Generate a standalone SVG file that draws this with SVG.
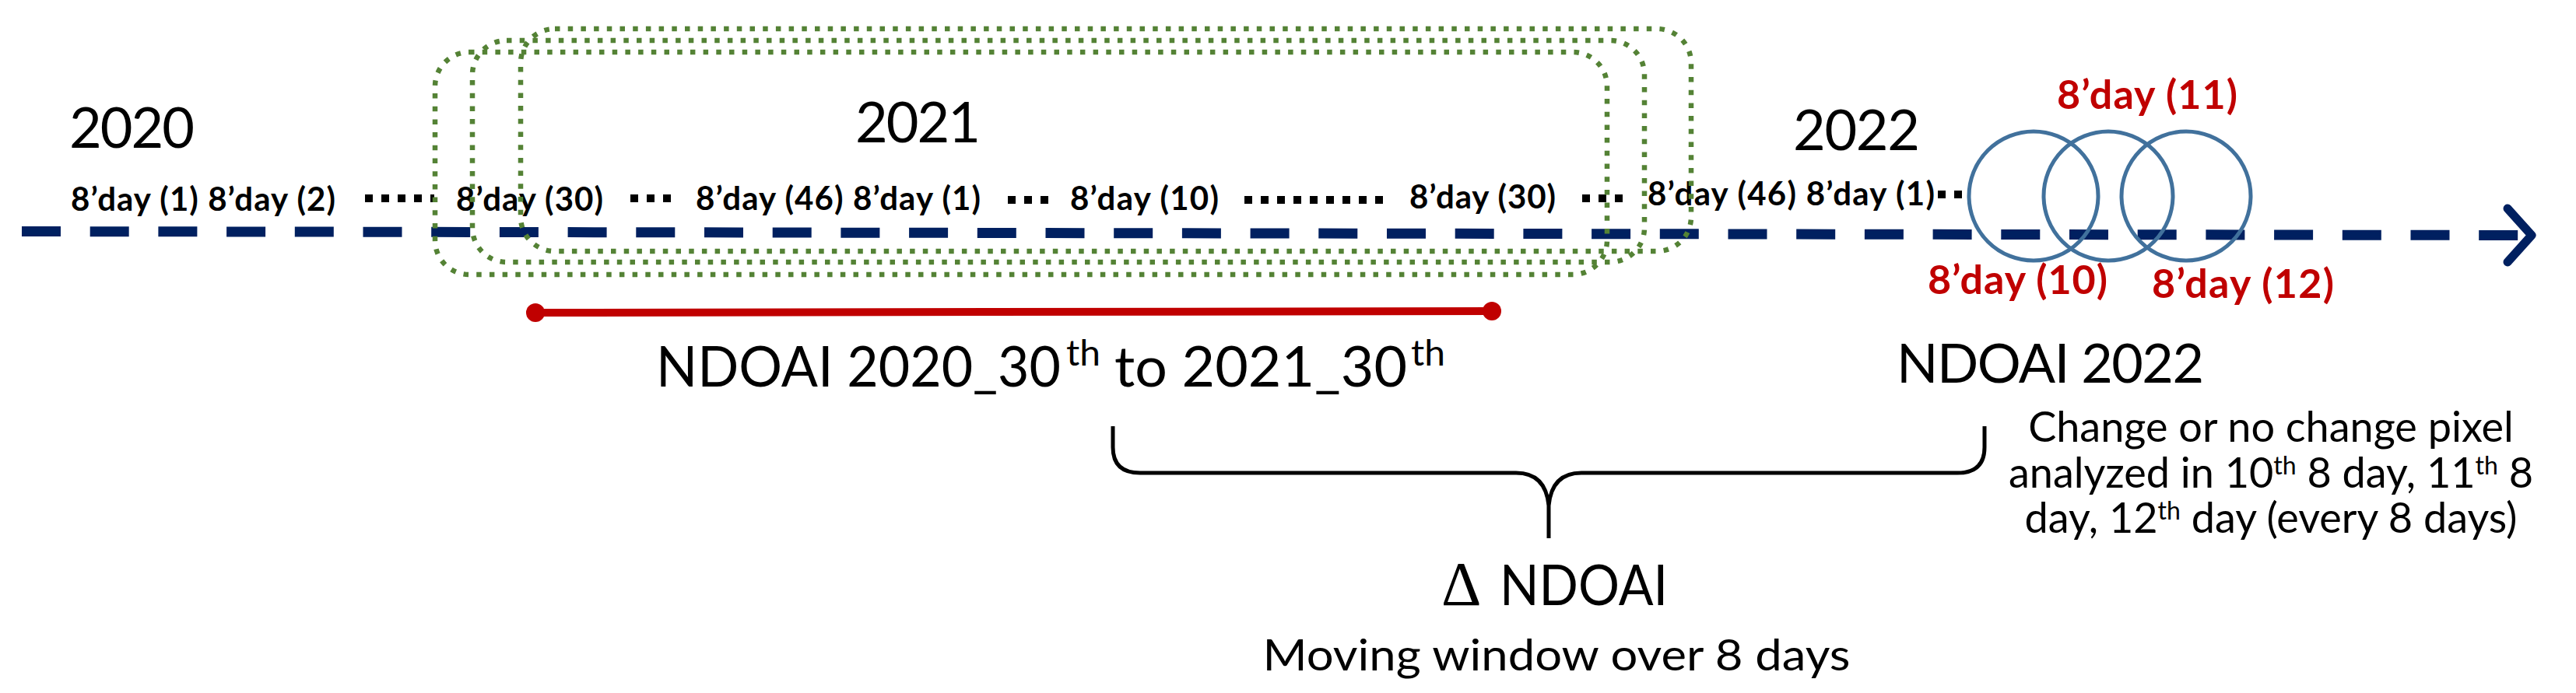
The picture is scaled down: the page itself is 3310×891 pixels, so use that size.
<svg xmlns="http://www.w3.org/2000/svg" width="3310" height="891" viewBox="0 0 3310 891">
<style>
text{font-family:Lato,"Liberation Sans",sans-serif;fill:#000}
.year{font-size:72px}
.day{font-size:42px;font-weight:700}
.red{font-size:52px;font-weight:700;fill:#C00000}
.big{font-size:72px}
.sup{font-size:46px}
.note{font-size:54px}
.dots{stroke:#000;stroke-width:10;stroke-dasharray:10 11;fill:none}
.win{fill:none;stroke:#548235;stroke-width:6.5;stroke-dasharray:6.5 10.2}
.circ{fill:none;stroke:#41719C;stroke-width:5}
</style>
<defs>
<marker id="rdot" viewBox="-2 -2 4 4" markerWidth="3.1" markerHeight="3.1" refX="0" refY="0" markerUnits="strokeWidth"><circle r="1.55" fill="#C00000"/></marker>
</defs>
<rect width="3310" height="891" fill="#fff"/>
<g id="years">
<text id="y2020" class="year" x="89" y="190" textLength="161">2020</text>
<text id="y2021" class="year" x="1099" y="183" textLength="161">2021</text>
<text id="y2022" class="year" x="2304" y="193" textLength="163">2022</text>
</g>
<g id="day-labels">
<text id="d1" class="day" x="91" y="271" textLength="340">8’day (1) 8’day (2)</text>
<text id="d30a" class="day" x="586" y="271" textLength="189">8’day (30)</text>
<text id="d46a" class="day" x="894" y="270" textLength="366">8’day (46) 8’day (1)</text>
<text id="d10" class="day" x="1375" y="270" textLength="191">8’day (10)</text>
<text id="d30b" class="day" x="1811" y="268" textLength="188">8’day (30)</text>
<text id="d46b" class="day" x="2117" y="264" textLength="369">8’day (46) 8’day (1)</text>
<path class="dots" d="M469 255H558"/>
<path class="dots" d="M810 255H863"/>
<path class="dots" d="M1295 257H1348"/>
<path class="dots" d="M1599 257H1779"/>
<path class="dots" d="M2033 255H2087"/>
<path class="dots" d="M2490 250H2531"/>
</g>
<g id="connectors">
<path id="timeline" d="M28 297.5L3240 302.5" stroke="#002060" stroke-width="13" stroke-dasharray="50 37.7" fill="none"/>
<path id="arrowhead" d="M3222 268L3253 302.5L3222 337" stroke="#002060" stroke-width="11" stroke-linecap="round" stroke-linejoin="round" fill="none"/>
<path id="period" d="M688 402L1917 400" stroke="#C00000" stroke-width="10" fill="none" marker-start="url(#rdot)" marker-end="url(#rdot)"/>
<path id="brace" d="M1430 548L1430 575Q1430 608 1465 608L1948 608Q1986 608 1990 650L1990 692M1990 650Q1994 608 2032 608L2515 608Q2550 608 2550 575L2550 548" stroke="#000" stroke-width="5" fill="none"/>
</g>
<g id="windows">
<rect id="winA" class="win" x="559" y="67" width="1506" height="286" rx="44"/>
<rect id="winB" class="win" x="607" y="52" width="1506" height="285" rx="44"/>
<rect id="winC" class="win" x="669" y="37" width="1504" height="286" rx="44"/>
</g>
<g id="circles">
<circle id="c10" class="circ" cx="2613" cy="252" r="83"/>
<circle id="c11" class="circ" cx="2709" cy="252" r="83"/>
<circle id="c12" class="circ" cx="2809" cy="252" r="83"/>
<text id="l11" class="red" x="2643" y="140" textLength="232">8’day (11)</text>
<text id="l10" class="red" x="2477" y="378" textLength="231">8’day (10)</text>
<text id="l12" class="red" x="2765" y="383" textLength="234">8’day (12)</text>
</g>
<g id="ndoai-period">
<text class="big" x="843" y="497" textLength="520" lengthAdjust="spacingAndGlyphs">NDOAI 2020_30</text>
<text class="sup" x="1370" y="470" textLength="44" lengthAdjust="spacingAndGlyphs">th</text>
<text class="big" x="1432" y="497" textLength="376" lengthAdjust="spacingAndGlyphs">to 2021_30</text>
<text class="sup" x="1813" y="470" textLength="44" lengthAdjust="spacingAndGlyphs">th</text>
</g>
<g id="ndoai-2022">
<text class="big" x="2437" y="492" style="font-size:70px" textLength="395">NDOAI 2022</text>
</g>
<g id="delta">
<text x="1852" y="778" style="font-size:80px;font-family:'Liberation Serif',serif">Δ</text>
<text class="big" x="1927" y="778" textLength="216" lengthAdjust="spacingAndGlyphs">NDOAI</text>
<text x="2000" y="862" text-anchor="middle" style="font-size:57px" textLength="755" lengthAdjust="spacingAndGlyphs">Moving window over 8 days</text>
</g>
<g id="note">
<text class="note" x="2918" y="568" text-anchor="middle">Change or no change pixel</text>
<text class="note" x="2918" y="627" text-anchor="middle">analyzed in 10<tspan dy="-17" font-size="32">th</tspan><tspan dy="17"> 8 day, 11</tspan><tspan dy="-17" font-size="32">th</tspan><tspan dy="17"> 8</tspan></text>
<text class="note" x="2918" y="685" text-anchor="middle">day, 12<tspan dy="-17" font-size="32">th</tspan><tspan dy="17"> day (every 8 days)</tspan></text>
</g>
</svg>
